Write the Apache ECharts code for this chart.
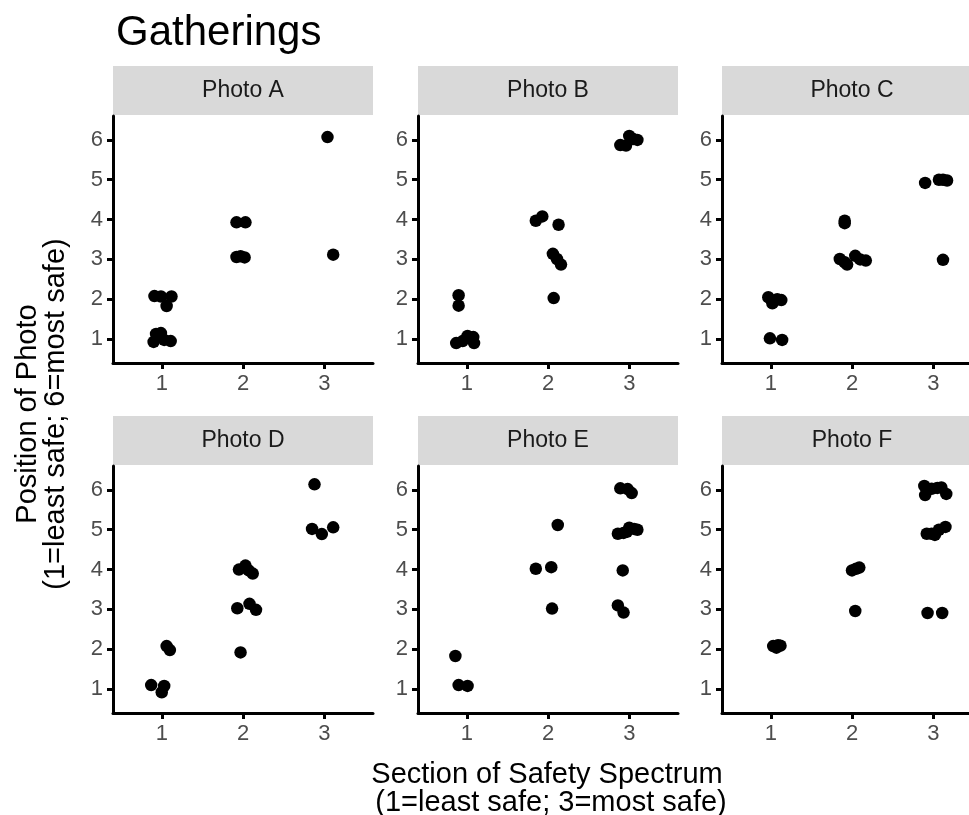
<!DOCTYPE html>
<html>
<head>
<meta charset="utf-8">
<script src="https://cdn.jsdelivr.net/npm/echarts@6/dist/echarts.min.js"></script>
<style>
  html, body { margin: 0; padding: 0; background: #fff; }
  #chart { width: 969px; height: 815px; }
</style>
</head>
<body>
<div id="chart"></div>
<script>
// 面板名称和刻度
const panelNames = ["Photo A", "Photo B", "Photo C", "Photo D", "Photo E", "Photo F"];
const xTicks = [1, 2, 3];
const yTicks = [1, 2, 3, 4, 5, 6];

// 每张照片的抖动点 [section, position]
const photoA = [
  [0.91, 2.08], [0.99, 2.07], [1.12, 2.07], [1.06, 1.83],
  [0.93, 1.13], [0.99, 1.15], [0.90, 0.93], [1.03, 0.98], [1.11, 0.95],
  [1.92, 3.93], [2.03, 3.93],
  [1.92, 3.06], [1.97, 3.08], [2.02, 3.05],
  [3.04, 6.07], [3.11, 3.12]
];
const photoB = [
  [0.90, 2.10], [0.90, 1.84],
  [0.87, 0.90], [0.95, 0.95], [1.01, 1.08], [1.08, 1.05], [1.09, 0.90],
  [1.85, 3.97], [1.93, 4.08], [2.13, 3.87],
  [2.06, 3.14], [2.11, 3.01], [2.16, 2.87],
  [2.07, 2.03],
  [2.89, 5.87], [2.96, 5.86], [3.00, 6.10], [3.05, 6.02], [3.10, 6.00]
];
const photoC = [
  [0.97, 2.05], [1.02, 1.90], [1.08, 2.00], [1.13, 1.98],
  [0.99, 1.02], [1.14, 0.98],
  [1.91, 3.97], [1.91, 3.91],
  [1.85, 3.01], [1.91, 2.93], [1.94, 2.87], [2.04, 3.09], [2.10, 3.00], [2.17, 2.97],
  [2.90, 4.92], [3.07, 5.00], [3.12, 5.00], [3.17, 4.98],
  [3.12, 2.99]
];
const photoD = [
  [0.87, 1.10], [1.03, 1.08], [1.00, 0.92],
  [1.06, 2.08], [1.10, 1.98],
  [1.97, 1.92],
  [1.93, 3.03], [2.08, 3.14], [2.16, 2.99],
  [1.95, 4.00], [2.03, 4.10], [2.07, 3.98], [2.12, 3.90],
  [2.85, 5.02], [2.97, 4.89], [3.11, 5.06],
  [2.88, 6.14]
];
const photoE = [
  [0.86, 1.83],
  [0.90, 1.10], [1.01, 1.08],
  [1.85, 4.02], [2.04, 4.06],
  [2.05, 3.02],
  [2.12, 5.12],
  [2.86, 3.10], [2.93, 2.92],
  [2.92, 3.98],
  [2.86, 4.90], [2.93, 4.92], [2.97, 4.95], [3.00, 5.05], [3.06, 5.02], [3.10, 5.00],
  [2.89, 6.04], [2.98, 6.02], [3.03, 5.92]
];
const photoF = [
  [1.03, 2.08], [1.07, 2.04], [1.09, 2.10], [1.12, 2.09],
  [2.04, 2.96],
  [2.00, 3.98], [2.05, 4.02], [2.09, 4.05],
  [2.93, 2.91], [3.11, 2.91],
  [2.92, 4.90], [2.98, 4.90], [3.02, 4.87], [3.07, 5.00], [3.15, 5.07],
  [2.89, 6.10], [2.90, 5.87], [2.98, 6.03], [3.05, 6.05], [3.10, 6.06], [3.16, 5.90]
];
const panelData = [photoA, photoB, photoC, photoD, photoE, photoF];

// 布局（右列被画布边缘裁掉）
const colLeft = [113, 418, 722];
const colWidth = [260, 260, 247];
const rowTop = [116, 466];
const panelH = 247;
const stripH = 49;
const pxPerUnit = 260 / 3.2;
const font = "'Liberation Sans', Arial, sans-serif";

const chart = echarts.init(document.getElementById("chart"));

const grids = [], xAxes = [], yAxes = [], series = [], graphics = [];
panelNames.forEach((name, i) => {
  const col = i % 3;
  const left = colLeft[col];
  const width = colWidth[col];
  const top = rowTop[Math.floor(i / 3)];
  grids.push({ left: left, top: top, width: width, height: panelH });
  xAxes.push({
    type: "value", gridIndex: i, min: 0.4, max: 0.4 + width / pxPerUnit,
    splitLine: { show: false },
    axisLine: { onZero: false, lineStyle: { color: "#000", width: 3 } },
    axisTick: { customValues: xTicks, length: 6, lineStyle: { color: "#000", width: 3 } },
    axisLabel: { customValues: xTicks, color: "#4d4d4d", fontSize: 22, fontFamily: font, margin: 10 }
  });
  yAxes.push({
    type: "value", gridIndex: i, min: 0.4, max: 6.6,
    splitLine: { show: false },
    axisLine: { onZero: false, lineStyle: { color: "#000", width: 3 } },
    axisTick: { customValues: yTicks, length: 6, lineStyle: { color: "#000", width: 3 } },
    axisLabel: { customValues: yTicks, color: "#4d4d4d", fontSize: 22, fontFamily: font, margin: 10 }
  });
  series.push({
    type: "scatter", xAxisIndex: i, yAxisIndex: i,
    data: panelData[i], symbolSize: 12.5,
    itemStyle: { color: "#000", opacity: 1 },
    clip: false
  });
  // 分面标签
  graphics.push({
    type: "rect",
    shape: { x: left, y: top - stripH - 1, width: 260, height: stripH },
    style: { fill: "#d9d9d9" }
  });
  graphics.push({
    type: "text",
    x: left + 130, y: top - stripH / 2 - 1,
    style: { text: name, fill: "#1a1a1a", fontSize: 23, fontFamily: font, align: "center", verticalAlign: "middle" }
  });
});

// 轴标题
graphics.push({
  type: "text", x: 547, y: 789,
  style: {
    text: "Section of Safety Spectrum\n (1=least safe; 3=most safe)",
    fill: "#000", fontSize: 29, fontFamily: font, lineHeight: 28,
    align: "center", verticalAlign: "middle"
  }
});
graphics.push({
  type: "text", x: 42, y: 414, rotation: Math.PI / 2,
  style: {
    text: "Position of Photo\n(1=least safe; 6=most safe)",
    fill: "#000", fontSize: 29, fontFamily: font, lineHeight: 28,
    align: "center", verticalAlign: "middle"
  }
});

const option = {
  animation: false,
  backgroundColor: "#fff",
  title: {
    text: "Gatherings", left: 111, top: 7,
    textStyle: { fontSize: 42, fontWeight: "normal", color: "#000", fontFamily: font }
  },
  grid: grids,
  xAxis: xAxes,
  yAxis: yAxes,
  series: series,
  graphic: graphics
};

option && chart.setOption(option);
</script>
</body>
</html>
